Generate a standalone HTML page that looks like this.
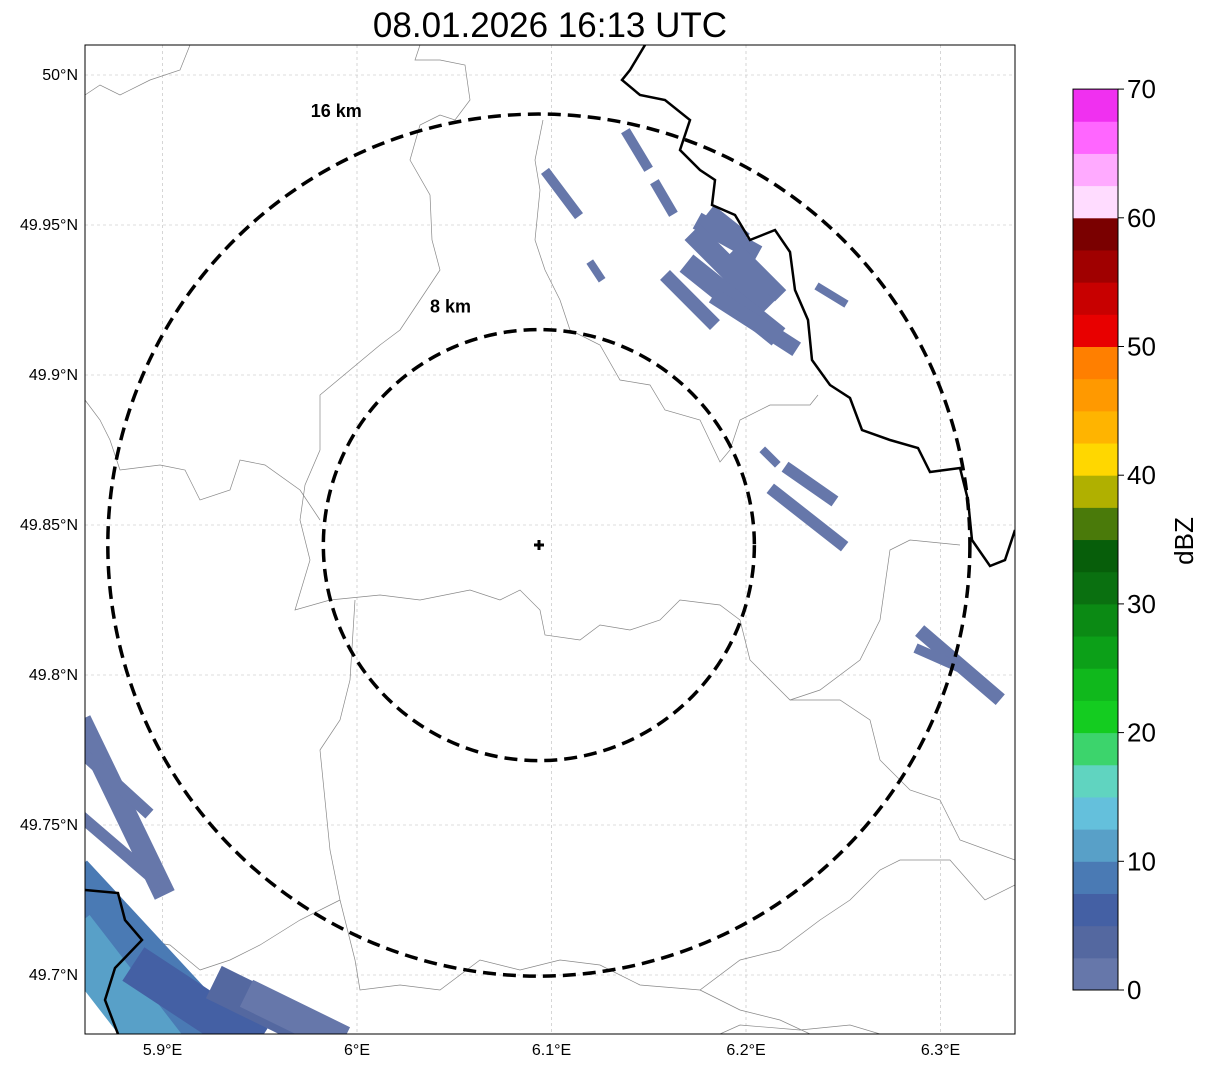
<!DOCTYPE html>
<html><head><meta charset="utf-8"><style>
body{margin:0;background:#fff;font-family:"Liberation Sans",sans-serif}
svg text{font-family:"Liberation Sans",sans-serif}
</style></head><body>
<svg id="chart" width="1207" height="1069" viewBox="0 0 1207 1069" xmlns="http://www.w3.org/2000/svg">
<text x="550" y="37" font-size="35" text-anchor="middle">08.01.2026 16:13 UTC</text>
<defs><clipPath id="mapclip"><rect x="85" y="45" width="930" height="989"/></clipPath></defs>
<g id="map" clip-path="url(#mapclip)">
<g id="grid"></g>
<g fill="none" stroke="#888" stroke-width="0.7">
<path d="M85,95 L100,85 L120,95 L150,80 L180,70 L190,45"/>
<path d="M420,45 L415,60 L440,60 L465,65 L470,100 L455,120 L440,115 L420,125 L410,160 L430,195 L432,240 L440,270 L420,300 L400,330 L380,345 L350,370 L320,395 L320,450 L305,485 L300,520 L310,560 L295,610 L330,600 L380,595 L420,600 L470,590 L500,600 L520,590 L540,610 L545,635 L580,640 L600,625 L630,630 L660,620 L680,600 L720,605 L740,620"/>
<path d="M543,120 L535,160 L540,190 L535,240 L545,270 L560,300 L570,330 L600,345 L620,380 L650,385 L665,410 L700,420 L720,462 L730,450 L740,420 L770,405 L810,405 L818,395"/>
<path d="M85,400 L100,420 L110,440 L120,470 L160,465 L185,470 L200,500 L230,490 L240,460 L265,465 L300,490 L320,520"/>
<path d="M740,620 L750,660 L770,680 L790,700 L840,700 L870,720 L880,760 L910,790 L940,800 L960,840 L1015,860"/>
<path d="M790,700 L820,690 L860,660 L880,620 L890,550 L910,540 L960,545"/>
<path d="M355,600 L350,680 L340,720 L320,750 L325,800 L330,850 L340,900 L355,960 L360,990 L400,985 L440,990 L480,960 L520,970 L560,960 L600,965 L640,985 L700,990 L740,960 L780,950 L820,920 L850,900 L880,870 L900,860 L950,860 L985,900 L1015,885"/>
<path d="M200,970 L230,960 L260,945 L300,920 L340,900"/>
<path d="M140,940 L170,945 L200,970"/>
<path d="M700,990 L740,1010 L780,1020 L810,1034"/>
<path d="M720,1034 L740,1025 L800,1030 L850,1025 L880,1034"/>
</g>
<g id="echoes"></g>
<g fill="none" stroke="#000" stroke-width="2.5">
<path d="M645,45 L630,70 L622,80 L640,95 L665,100 L690,120 L680,150 L700,170 L715,180 L712,205 L735,215 L750,240 L775,230 L790,252 L795,290 L808,320 L812,360 L830,385 L850,398 L862,430 L890,440 L918,448 L930,472 L960,468 L968,500 L972,540 L990,566 L1005,560 L1015,530"/>
<path d="M85,890 L118,893 L125,920 L142,940 L115,968 L105,1000 L118,1034"/>
</g>
<g id="rings"></g>
<path d="M539,540 V550 M534,545 H544" stroke="#000" stroke-width="3"/>
</g>
<rect x="85" y="45" width="930" height="989" fill="none" stroke="#000" stroke-width="1"/>
<g id="ticks" font-size="16"></g>
<g id="cbar"></g>
<text transform="translate(1193,541) rotate(-90)" font-size="26" text-anchor="middle">dBZ</text>
</svg>
<script>
const NS="http://www.w3.org/2000/svg";
const xTicks=[5.9,6.0,6.1,6.2,6.3];
const xTickLabels=["5.9°E","6°E","6.1°E","6.2°E","6.3°E"];
const yTicks=[50.0,49.95,49.9,49.85,49.8,49.75,49.7];
const yTickLabels=["50°N","49.95°N","49.9°N","49.85°N","49.8°N","49.75°N","49.7°N"];
const ringKm=[8,16];
const ringLabelFx=[0.41,0.47];
const ringLabelDy=[-17,3];
const siteLon=6.0935, siteLat=49.8433;
const echoLon1=[6.0982,6.1393,6.1542,6.1208,6.1789,6.1764,6.1738,6.1609,6.1866,6.1969,6.1841,6.2380,6.2098,6.2226,6.2149,6.2920,6.2895,5.8602,5.8602,5.8627,5.8602,5.8602,5.8936,5.9347,5.9501];
const echoLat1=[49.9667,49.98,49.963,49.9367,49.95,49.945,49.935,49.9317,49.925,49.94,49.9533,49.929,49.8743,49.8683,49.861,49.8133,49.8083,49.7817,49.7517,49.7717,49.7217,49.7083,49.70,49.695,49.6917];
const echoLon2=[6.1126,6.1486,6.1614,6.1249,6.2021,6.2072,6.2123,6.1815,6.2226,6.2149,6.1969,6.2499,6.2149,6.2432,6.2483,6.3280,6.3126,5.8987,5.8961,5.8910,5.9193,5.8936,5.9398,5.9810,5.9861];
const echoLat2=[49.9543,49.97,49.955,49.9327,49.9417,49.925,49.915,49.9183,49.91,49.9283,49.9467,49.9243,49.871,49.859,49.844,49.7933,49.8017,49.73,49.7317,49.755,49.6803,49.6803,49.6803,49.6803,49.6803];
const echoDbz=[1,1,1,1,1,1,1,1,1,1,1,1,1,1,1,1,1,1,1,1,9,12,6,3,1];
const echoWidth=[10,10,10,8,18,22,22,14,16,16,14,8,8,12,12,14,10,22,12,12,70,50,40,36,30];
const cbLevels=[0,2.5,5,7.5,10,12.5,15,17.5,20,22.5,25,27.5,30,32.5,35,37.5,40,42.5,45,47.5,50,52.5,55,57.5,60,62.5,65,67.5,70];
const cbColors=["#6677aa","#5468a0","#4460a4","#4a7ab4","#58a0c8","#64c0dc","#60d4c0","#3cd46c","#14cc20","#10b81c","#0ca018","#0b8a14","#0a7010","#075e0a","#4a7a0a","#b0b000","#ffd700","#ffb400","#ff9900","#ff7f00","#e80000","#c80000","#a00000","#7a0000","#ffdcff","#ffaaff","#ff66ff","#f030f0"];
const cbTicks=[0,10,20,30,40,50,60,70];
const X=lon=>357+(lon-6)*1945;
const Y=lat=>525-(lat-49.85)*3000;
const CB=v=>990-v*12.87;
const PX_PER_KM=26.94;
function colorFor(d){for(let i=cbColors.length-1;i>=0;i--){if(d>=cbLevels[i])return cbColors[i];}return cbColors[0];}
function mk(tag,attrs,parent){const e=document.createElementNS(NS,tag);for(const k in attrs)e.setAttribute(k,attrs[k]);parent.appendChild(e);return e;}
const grid=document.getElementById('grid'),ticks=document.getElementById('ticks');
xTicks.forEach((v,i)=>{
 const l=mk('line',{x1:X(v),x2:X(v),y1:45,y2:1034,stroke:'#bbb','stroke-width':0.6,'stroke-dasharray':'3,3'},grid);
 
 
 const t=mk('text',{x:X(v),y:1055,'text-anchor':'middle'},ticks);t.textContent=xTickLabels[i];
 
 
});
yTicks.forEach((v,i)=>{
 const l=mk('line',{x1:85,x2:1015,y1:Y(v),y2:Y(v),stroke:'#bbb','stroke-width':0.6,'stroke-dasharray':'3,3'},grid);
 
 
 const t=mk('text',{x:78,y:Y(v)+5,'text-anchor':'end'},ticks);t.textContent=yTickLabels[i];
 
 
});
const echoes=document.getElementById('echoes');
for(let i=0;i<echoDbz.length;i++){
 const l=mk('line',{x1:X(echoLon1[i]),y1:Y(echoLat1[i]),x2:X(echoLon2[i]),y2:Y(echoLat2[i]),stroke:colorFor(echoDbz[i]),'stroke-width':echoWidth[i],'stroke-linecap':'square'},echoes);
 
 
}
const rings=document.getElementById('rings');
ringKm.forEach((km,i)=>{
 const r=km*PX_PER_KM;
 const c=mk('circle',{cx:X(siteLon),cy:Y(siteLat),r:r,fill:'none',stroke:'#000','stroke-width':3.5,'stroke-dasharray':'13,7'},rings);
 
 
 const t=mk('text',{x:X(siteLon)-r*ringLabelFx[i],y:Y(siteLat)-r+ringLabelDy[i],'text-anchor':'middle','font-size':18,'font-weight':'bold'},rings);
 t.textContent=km+' km';
 
 
});
const cb=document.getElementById('cbar');
for(let i=0;i<cbColors.length;i++){
 const r=mk('rect',{x:1073,y:CB(cbLevels[i+1]),width:45,height:CB(cbLevels[i])-CB(cbLevels[i+1])+0.5,fill:cbColors[i]},cb);
 
 
}
mk('rect',{x:1073,y:CB(70),width:45,height:CB(0)-CB(70),fill:'none',stroke:'#000','stroke-width':1},cb);
cbTicks.forEach(v=>{
 mk('line',{x1:1118,x2:1124,y1:CB(v),y2:CB(v),stroke:'#000'},cb);
 const t=mk('text',{x:1127,y:CB(v)+9,'font-size':26},cb);t.textContent=v;
 
 
});
</script>
</body></html>
